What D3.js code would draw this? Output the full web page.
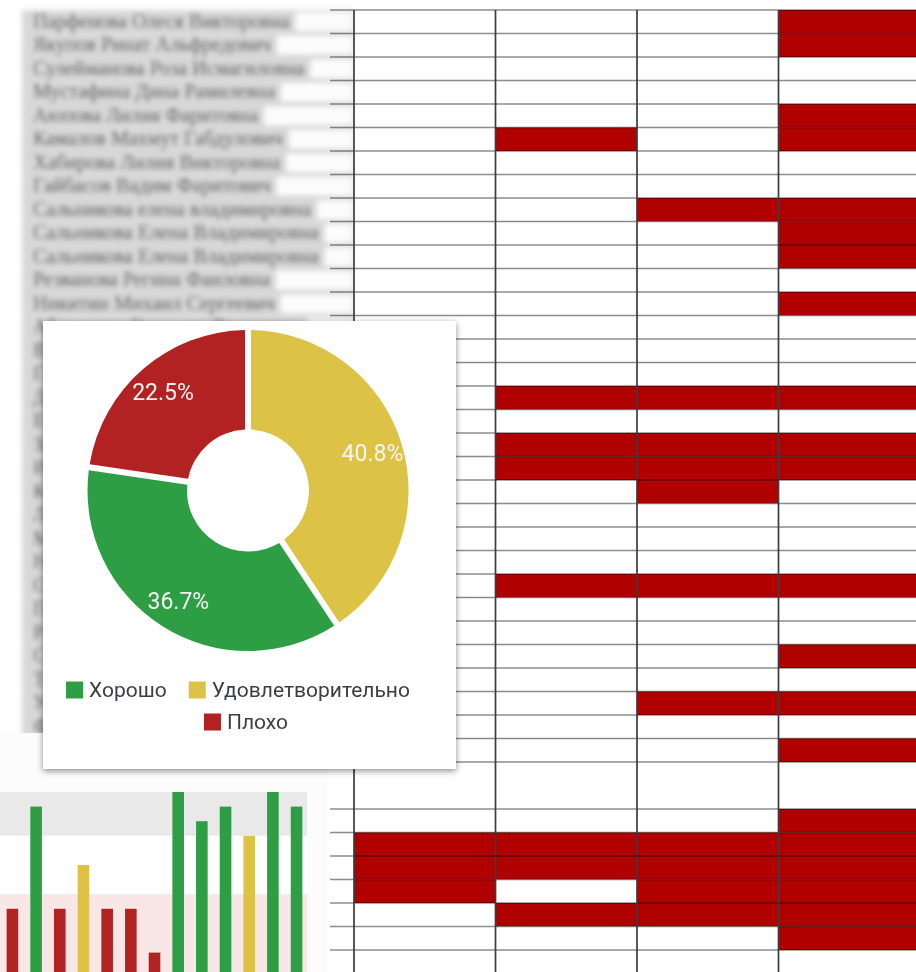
<!DOCTYPE html>
<html lang="ru">
<head>
<meta charset="utf-8">
<style>
    body { margin: 0; background: #fff; }
    svg { display: block; }
</style>
<script src="https://d3js.org/d3.v7.min.js"></script>
</head>
<body>
<svg width="916" height="972"></svg>
<script>
    // ---- table (background screenshot) ----
    var names = [
        "Парфенова Олеся Викторовна", "Якупов Ринат Альфредович", "Сулейманова Роза Исмагиловна",
        "Мустафина Дина Рамилевна", "Аюпова Лилия Фаритовна", "Камалов Махмут Габдулович",
        "Хабирова Лилия Викторовна", "Гайбасов Вадим Фаритович", "Сальникова елена владимировна",
        "Сальникова Елена Владимировна", "Сальникова Елена Владимировна", "Резванова Регина Фаиловна",
        "Никитин Михаил Сергеевич", "Абдуллина Гульнара Ринатовна", "Валиев Артур Ильдарович",
        "Галимова Алсу Рашитовна", "Давлетшин Руслан Маратович", "Еремина Ольга Петровна",
        "Закирова Эльвира Азатовна", "Иванова Мария Сергеевна", "Каримов Тимур Рустемович",
        "Латыпова Диана Айратовна", "Миронов Андрей Викторович", "Нуриева Алина Ильшатовна",
        "Осипова Анна Николаевна", "Петров Денис Олегович", "Рахимова Лейсан Радиковна",
        "Сафина Регина Ринатовна", "Тагиров Ильнур Фанисович", "Усманова Зарина Маратовна",
        "Федорова Ксения Андреевна"
    ];

    // 1 = red cell, one row per line, four columns
    var grid = [
        [0,0,0,1], [0,0,0,1], [0,0,0,0], [0,0,0,0], [0,0,0,1],
        [0,1,0,1], [0,0,0,0], [0,0,0,0], [0,0,1,1], [0,0,0,1],
        [0,0,0,1], [0,0,0,0], [0,0,0,1], [0,0,0,0], [0,0,0,0],
        [0,0,0,0], [0,1,1,1], [0,0,0,0], [0,1,1,1], [0,1,1,1],
        [0,0,1,0], [0,0,0,0], [0,0,0,0], [0,0,0,0], [0,1,1,1],
        [0,0,0,0], [0,0,0,0], [0,0,0,1], [0,0,0,0], [0,0,1,1],
        [0,0,0,0], [0,0,0,1], [0,0,0,0], [0,0,0,1], [1,1,1,1],
        [1,1,1,1], [1,0,1,1], [0,1,1,1], [0,0,0,1], [0,0,0,0]
    ];
    var tallRows = [32];

    // ---- donut ----
    var pieLabels = ["Хорошо", "Удовлетворительно", "Плохо"];
    var pieValues = [36.7, 40.8, 22.5];
    var pieColors = ["#2f9e44", "#dcc245", "#b22222"];
    var pieDrawOrder = [1, 0, 2];

    // ---- small bar chart ----
    var barIds = ["1","2","3","4","5","6","7","8","9","10","11","12","13"];
    var barScores = [12, 19, 12, 15, 12, 12, 9, 20, 18, 19, 17, 20, 19];
    var barGrades = [2, 0, 2, 1, 2, 2, 2, 0, 0, 0, 1, 0, 0];
    var scoreMax = 20;
    var zones = [[17, 20, "#e9e9e9"], [13, 17, "#ffffff"], [0, 13, "#f9e7e7"]];

    var svg = d3.select("svg");
    var defs = svg.append("defs");

    defs.append("filter").attr("id", "soft")
        .attr("filterUnits", "userSpaceOnUse").attr("x", 0).attr("y", 0).attr("width", 916).attr("height", 972)
        .append("feGaussianBlur").attr("stdDeviation", 0.6);
    defs.append("filter").attr("id", "smear")
        .attr("filterUnits", "userSpaceOnUse").attr("x", 0).attr("y", 0).attr("width", 400).attr("height", 972)
        .append("feGaussianBlur").attr("stdDeviation", 2.8);
    defs.append("filter").attr("id", "shadow")
        .attr("x", "-10%").attr("y", "-10%").attr("width", "120%").attr("height", "120%")
        .append("feDropShadow").attr("dx", 0).attr("dy", 2).attr("stdDeviation", 3)
        .attr("flood-color", "#000").attr("flood-opacity", 0.45);

    var root = svg.append("g").attr("filter", "url(#soft)");

    // ---------- table ----------
    var tableTop = 10, rowH = 23.5;
    var units = grid.map(function(r, i) { return tallRows.indexOf(i) >= 0 ? 2 : 1; });
    var starts = [0].concat(Array.from(d3.cumsum(units)));
    var yRow = d3.scaleLinear().domain([0, 1]).range([tableTop, tableTop + rowH]);
    var x = d3.scaleBand().domain([0, 1, 2, 3]).range([354, 354 + 4 * 141.5]);
    var nameX0 = 22, nameX1 = 354, textX = 33;

    var table = root.append("g");
    var namesG = table.append("g").attr("filter", "url(#smear)");
    var bgLayer = namesG.append("g"), boxLayer = namesG.append("g"), textLayer = namesG.append("g");

    grid.forEach(function(row, i) {
        var y0 = yRow(starts[i]), y1 = yRow(starts[i + 1]);
        bgLayer.append("rect")
            .attr("x", nameX0).attr("y", y0).attr("width", nameX1 - nameX0).attr("height", y1 - y0)
            .attr("fill", names[i] ? "#d8d8d8" : "#fff");
        if (names[i]) {
            var t = textLayer.append("text")
                .attr("x", textX).attr("y", y0 + 17.5)
                .attr("font-family", "Liberation Serif, serif")
                .attr("font-size", 20)
                .attr("fill", "#3a3a3a")
                .text(names[i]);
            var end = textX + t.node().getComputedTextLength() + 6;
            boxLayer.append("rect")
                .attr("x", end).attr("y", y0 + 2.5)
                .attr("width", Math.max(0, nameX1 - 2 - end)).attr("height", y1 - y0 - 5)
                .attr("fill", "#fcfcfc");
        }
    });

    grid.forEach(function(row, i) {
        var y0 = yRow(starts[i]), y1 = yRow(starts[i + 1]);
        table.selectAll(null)
            .data(row)
            .enter().append("rect")
            .attr("x", function(d, j) { return x(j); })
            .attr("y", y0)
            .attr("width", x.bandwidth())
            .attr("height", y1 - y0)
            .attr("fill", function(d) { return d ? "#b00000" : "#fff"; });
    });

    table.selectAll(".hline")
        .data(starts)
        .enter().append("line")
        .attr("x1", 330).attr("x2", 916)
        .attr("y1", function(d) { return yRow(d); })
        .attr("y2", function(d) { return yRow(d); })
        .attr("stroke", "rgba(0,0,0,0.45)")
        .attr("stroke-width", 1.6);

    table.selectAll(".vline")
        .data([354].concat(x.domain().map(function(j) { return x(j) + x.bandwidth(); })))
        .enter().append("line")
        .attr("x1", function(d) { return d; }).attr("x2", function(d) { return d; })
        .attr("y1", tableTop).attr("y2", 972)
        .attr("stroke", "#3c3c3c")
        .attr("stroke-width", 1.7);

    // ---------- bar chart (bottom left) ----------
    var bars = root.append("g");
    bars.append("rect").attr("x", 0).attr("y", 733).attr("width", 327).attr("height", 240).attr("fill", "#fcfcfc");

    var xb = d3.scaleBand().domain(barIds).range([0, 309]).paddingInner(0.51).paddingOuter(0.28);
    var yb = d3.scaleLinear().domain([0, scoreMax]).range([1084, 792]);

    bars.selectAll(".zone")
        .data(zones)
        .enter().append("rect")
        .attr("x", 0).attr("width", 307)
        .attr("y", function(d) { return yb(d[1]); })
        .attr("height", function(d) { return yb(d[0]) - yb(d[1]); })
        .attr("fill", function(d) { return d[2]; });

    bars.selectAll(".bar")
        .data(barScores)
        .enter().append("rect")
        .attr("x", function(d, i) { return xb(barIds[i]); })
        .attr("y", function(d) { return yb(d); })
        .attr("width", xb.bandwidth())
        .attr("height", function(d) { return yb(0) - yb(d); })
        .attr("fill", function(d, i) { return pieColors[barGrades[i]]; });

    // ---------- donut card ----------
    var card = root.append("g");
    card.append("rect")
        .attr("x", 43).attr("y", 321).attr("width", 413).attr("height", 448)
        .attr("fill", "#fff")
        .attr("filter", "url(#shadow)");

    var cx = 248, cy = 490.5;
    var pie = d3.pie().sort(null).padAngle(0.035).value(function(i) { return pieValues[i]; });
    var arc = d3.arc().innerRadius(61).outerRadius(160.5);
    var labelArc = d3.arc().innerRadius(130).outerRadius(130);

    var donut = card.append("g").attr("transform", "translate(" + cx + "," + cy + ")");
    var slices = pie(pieDrawOrder);

    donut.selectAll("path")
        .data(slices)
        .enter().append("path")
        .attr("d", arc)
        .attr("fill", function(d) { return pieColors[d.data]; });

    donut.selectAll("text")
        .data(slices)
        .enter().append("text")
        .attr("transform", function(d) { return "translate(" + labelArc.centroid(d) + ")"; })
        .attr("text-anchor", "middle")
        .attr("dy", "0.36em")
        .attr("font-family", "Roboto, sans-serif")
        .attr("font-size", 23)
        .attr("fill", "#f4f4f4")
        .text(function(d) { return pieValues[d.data].toFixed(1) + "%"; });

    // legend: two lines, centred
    var legendLines = [[0, 1], [2]];
    var legendY = [690, 722];
    var legendCx = [238, 246];
    legendLines.forEach(function(line, li) {
        var g = card.append("g");
        var pos = 0;
        line.forEach(function(k, n) {
            if (n > 0) pos += 22;
            g.append("rect")
                .attr("x", pos).attr("y", -8.5).attr("width", 17).attr("height", 17)
                .attr("fill", pieColors[k]);
            var t = g.append("text")
                .attr("x", pos + 23).attr("y", 0).attr("dy", "0.35em")
                .attr("font-family", "Roboto, sans-serif")
                .attr("font-size", 21)
                .attr("fill", "#3a3e48")
                .text(pieLabels[k]);
            pos += 23 + t.node().getComputedTextLength();
        });
        g.attr("transform", "translate(" + (legendCx[li] - pos / 2) + "," + legendY[li] + ")");
    });
</script>
</body>
</html>
